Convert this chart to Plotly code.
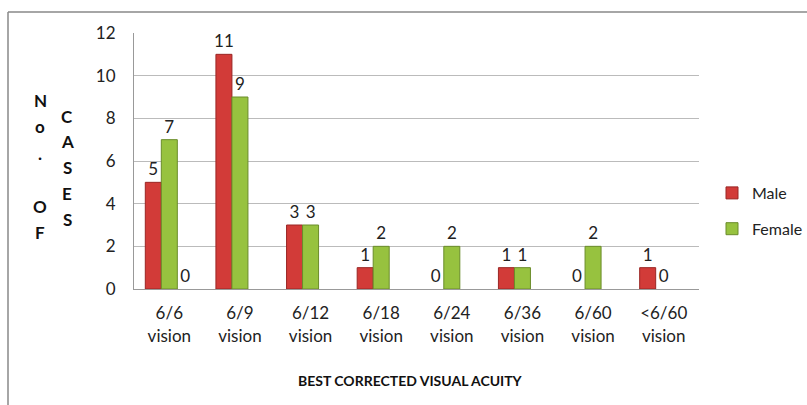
import plotly.graph_objects as go

categories = ['6/6<br>vision', '6/9<br>vision', '6/12<br>vision', '6/18<br>vision',
              '6/24<br>vision', '6/36<br>vision', '6/60<br>vision', '<6/60<br>vision']
male = [5, 11, 3, 1, 0, 1, 0, 1]
female = [7, 9, 3, 2, 2, 1, 2, 0]
# third (empty) series from the source sheet, only its first label shows
extra = [0, None, None, None, None, None, None, None]

FONT = 'Lato, Carlito, Calibri, sans-serif'

# plot area in pixels: x 134..699, y 33..289
L, R, T, B = 134, 699, 33, 289
W, H = R - L, B - T


def px(x):
    return (x - L) / W


def py(y):
    return (B - y) / H


fig = go.Figure()

fig.add_trace(go.Bar(
    x=categories, y=male, name='Male',
    marker=dict(color='#D23B38',
                line=dict(color='#9A2624', width=[1 if v else 0 for v in male])),
    text=[str(v) for v in male], textposition='outside', constraintext='none',
    textfont=dict(size=17, color='#222222', family=FONT),
    cliponaxis=False, legendgroup='m'
))
fig.add_trace(go.Bar(
    x=categories, y=female, name='Female',
    marker=dict(color='#97C23F',
                line=dict(color='#6A8C2A', width=[1 if v else 0 for v in female])),
    text=[str(v) for v in female], textposition='outside', constraintext='none',
    textfont=dict(size=17, color='#222222', family=FONT),
    cliponaxis=False, legendgroup='f'
))
fig.add_trace(go.Bar(
    x=categories, y=extra, name='',
    marker=dict(color='rgba(0,0,0,0)', line=dict(width=0)),
    text=['' if v is None else str(v) for v in extra], textposition='outside',
    constraintext='none',
    textfont=dict(size=17, color='#222222', family=FONT),
    cliponaxis=False, showlegend=False, hoverinfo='skip'
))

# stacked vertical y-axis title letters
col1 = ['N', 'o', '.', '', 'O', 'F']
col2 = ['C', 'A', 'S', 'E', 'S']
for i, ch in enumerate(col1):
    if ch:
        fig.add_annotation(x=px(40), y=py(100 + 26.5 * i), xref='paper', yref='paper',
                           xanchor='center', yanchor='middle',
                           text='<b>%s</b>' % ch, showarrow=False,
                           font=dict(size=17, color='#111111', family=FONT))
for i, ch in enumerate(col2):
    fig.add_annotation(x=px(67), y=py(116 + 25.8 * i), xref='paper', yref='paper',
                       xanchor='center', yanchor='middle',
                       text='<b>%s</b>' % ch, showarrow=False,
                       font=dict(size=17, color='#111111', family=FONT))

fig.add_annotation(x=px(410), y=py(380), xref='paper', yref='paper',
                   xanchor='center', yanchor='middle',
                   text='<b>BEST CORRECTED VISUAL ACUITY</b>', showarrow=False,
                   font=dict(size=14, color='#111111', family=FONT))

# outer frame (top and left edges visible)
fig.add_shape(type='line', xref='paper', yref='paper',
              x0=px(8), y0=py(12), x1=px(807), y1=py(12),
              line=dict(color='#888888', width=1.5))
fig.add_shape(type='line', xref='paper', yref='paper',
              x0=px(8), y0=py(12), x1=px(8), y1=py(405),
              line=dict(color='#888888', width=1.5))

fig.update_layout(
    width=807, height=405,
    margin=dict(l=L, r=807 - R, t=T, b=405 - B, autoexpand=False),
    paper_bgcolor='white', plot_bgcolor='white',
    barmode='group', bargap=0.32, bargroupgap=0,
    font=dict(family=FONT, size=16, color='#222222'),
    showlegend=True,
    legend=dict(x=px(712), y=py(211), xanchor='left', yanchor='middle',
                font=dict(size=16, color='#222222', family=FONT),
                traceorder='grouped', tracegroupgap=12, bgcolor='rgba(0,0,0,0)',
                itemwidth=30),
    xaxis=dict(showgrid=False, showline=True, linecolor='#999999', linewidth=1,
               automargin=False,
               ticks='', tickfont=dict(size=17, color='#222222'), ticklabelstandoff=9),
    yaxis=dict(range=[0, 12], dtick=2, showgrid=True, gridcolor='#BBBBBB', gridwidth=1,
               showline=True, linecolor='#999999', linewidth=1, zeroline=False,
               automargin=False,
               ticks='', tickfont=dict(size=17, color='#222222'), ticklabelstandoff=14),
)

fig.write_html('out.html', config={'displayModeBar': False},
               post_script="document.body.style.margin='0';")
